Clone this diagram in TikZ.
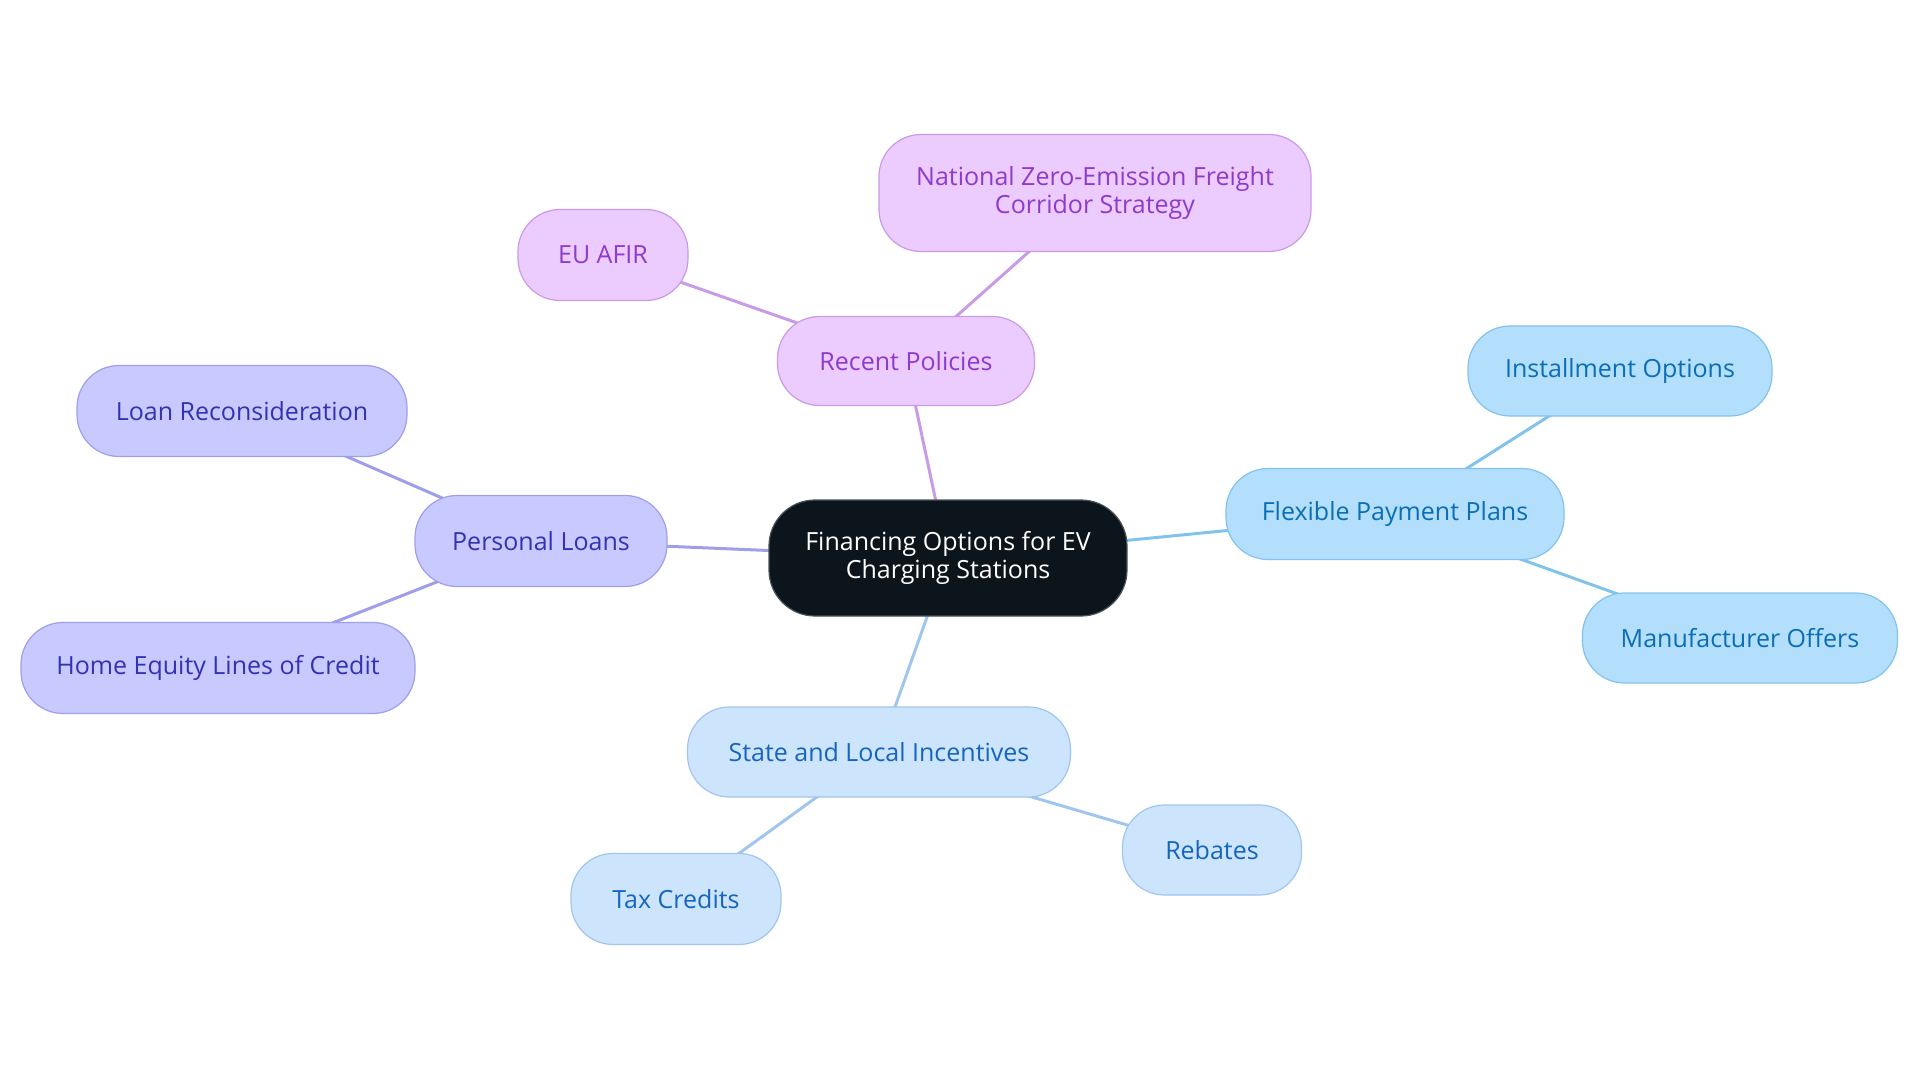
\documentclass[tikz,border=0pt]{standalone}
\usepackage{fontspec}
\setmainfont{Open Sans}
\usetikzlibrary{backgrounds}
\definecolor{cdark}{HTML}{0C141C}
\definecolor{cdarkb}{HTML}{4A525A}
\definecolor{pfill}{HTML}{ECCBFF}
\definecolor{pdraw}{HTML}{C99AE6}
\definecolor{ptext}{HTML}{8E3ACD}
\definecolor{lfill}{HTML}{C8CAFF}
\definecolor{ldraw}{HTML}{9E9EEA}
\definecolor{ltext}{HTML}{3232B2}
\definecolor{bfill}{HTML}{B3DFFD}
\definecolor{bdraw}{HTML}{82C3EC}
\definecolor{btext}{HTML}{0A6EB4}
\definecolor{sfill}{HTML}{CDE4FD}
\definecolor{sdraw}{HTML}{A0C6EE}
\definecolor{stext}{HTML}{1565C0}
\tikzset{
  pill/.style={rounded corners=42pt, line width=1.2pt, align=center, inner sep=0pt,
    font=\fontsize{25}{28.5}\selectfont},
  rootnode/.style={pill, fill=cdark, draw=cdarkb, text=white, rounded corners=46pt},
  purplenode/.style={pill, fill=pfill, draw=pdraw, text=ptext},
  lavnode/.style={pill, fill=lfill, draw=ldraw, text=ltext},
  bluenode/.style={pill, fill=bfill, draw=bdraw, text=btext},
  skynode/.style={pill, fill=sfill, draw=sdraw, text=stext},
  link/.style={line width=3pt},
}
\begin{document}
\begin{tikzpicture}[x=1pt,y=-1pt]
\useasboundingbox (0,0) rectangle (1920,1083);
\node[rootnode, minimum width=358pt, minimum height=116pt] (root) at (948,558) {Financing Options for EV\\Charging Stations};
\node[purplenode, minimum width=257pt, minimum height=89pt] (rp) at (906,361) {Recent Policies};
\node[purplenode, minimum width=432pt, minimum height=117pt] (nz) at (1095,193) {National Zero-Emission Freight\\Corridor Strategy};
\node[purplenode, minimum width=170pt, minimum height=91pt] (eu) at (603,255) {EU AFIR};
\node[lavnode, minimum width=252pt, minimum height=91pt] (pl) at (541,541) {Personal Loans};
\node[lavnode, minimum width=330pt, minimum height=91pt] (lr) at (242,411) {Loan Reconsideration};
\node[lavnode, minimum width=394pt, minimum height=91pt] (he) at (218,668) {Home Equity Lines of Credit};
\node[bluenode, minimum width=338pt, minimum height=91pt] (fp) at (1395,514) {Flexible Payment Plans};
\node[bluenode, minimum width=304pt, minimum height=90pt] (io) at (1620,371) {Installment Options};
\node[bluenode, minimum width=315pt, minimum height=90pt] (mo) at (1740,638) {Manufacturer Offers};
\node[skynode, minimum width=383pt, minimum height=90pt] (sl) at (879,752) {State and Local Incentives};
\node[skynode, minimum width=179pt, minimum height=90pt] (rb) at (1212,850) {Rebates};
\node[skynode, minimum width=210pt, minimum height=91pt] (tc) at (676,899) {Tax Credits};
\begin{scope}[on background layer]
\draw[link, pdraw] (root.center) -- (rp.center);
\draw[link, pdraw] (rp.center) -- (nz.center);
\draw[link, pdraw] (rp.center) -- (eu.center);
\draw[link, ldraw] (root.center) -- (pl.center);
\draw[link, ldraw] (pl.center) -- (lr.center);
\draw[link, ldraw] (pl.center) -- (he.center);
\draw[link, bdraw] (root.center) -- (fp.center);
\draw[link, bdraw] (fp.center) -- (io.center);
\draw[link, bdraw] (fp.center) -- (mo.center);
\draw[link, sdraw] (root.center) -- (sl.center);
\draw[link, sdraw] (sl.center) -- (rb.center);
\draw[link, sdraw] (sl.center) -- (tc.center);
\end{scope}
\end{tikzpicture}
\end{document}
